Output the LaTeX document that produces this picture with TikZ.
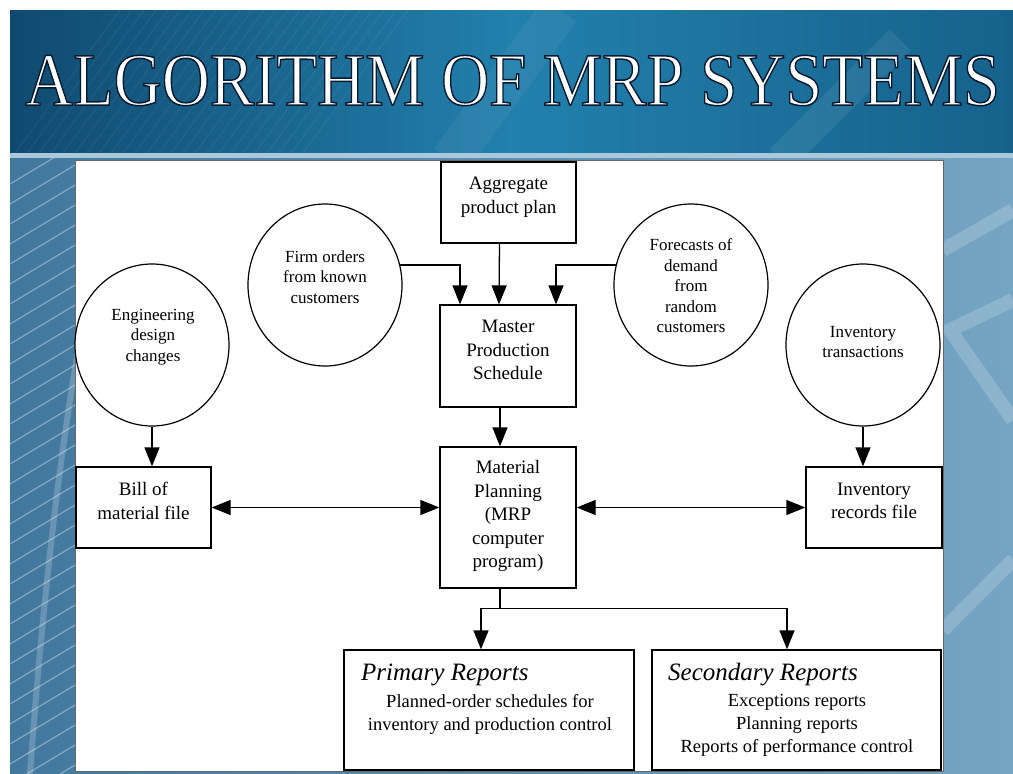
\documentclass[tikz,border=0pt]{standalone}
\usepackage{fontspec}
\setmainfont{Liberation Serif}
\usetikzlibrary{arrows.meta,shapes.geometric}
\definecolor{hdrA}{RGB}{16,74,112}
\definecolor{hdrB}{RGB}{34,128,172}
\definecolor{hdrC}{RGB}{22,98,140}
\definecolor{bgA}{RGB}{66,120,158}
\definecolor{bgB}{RGB}{118,165,195}
\definecolor{sepline}{RGB}{170,200,220}
% white letters stroked with a dark outline (text render mode 2)
\newcommand\outlinedtext[1]{%
  \special{pdf:literal direct 2 Tr 1.5 w 0.02 0.10 0.19 RG}#1\special{pdf:literal direct 0 Tr}}
\begin{document}
\begin{tikzpicture}[x=1pt,y=-1pt,
  box/.style={draw=black,line width=1.3pt,fill=white,inner sep=0pt},
  disc/.style={ellipse,draw=black,line width=1.2pt,fill=white,inner sep=0pt,
    minimum width=154pt,minimum height=162pt},
  boxtxt/.style={align=center,font=\fontsize{19}{23.5}\selectfont,inner sep=0pt},
  disctxt/.style={align=center,font=\fontsize{17}{20.5}\selectfont,inner sep=0pt},
  reptitle/.style={anchor=west,font=\fontsize{25}{28}\selectfont\itshape,inner sep=0pt},
  reptxt/.style={align=center,font=\fontsize{18.5}{22.7}\selectfont,inner sep=0pt},
  tip/.tip={Triangle[width=15pt,length=19pt]},
  flow/.style={line width=1.3pt,-tip},
  both/.style={line width=1.3pt,tip-tip},
  link/.style={line width=1.3pt},
  streak/.style={white,line width=1.2pt,opacity=0.35},
  band/.style={white,line width=14pt,opacity=0.18}
]
\useasboundingbox (0,0) rectangle (1013,774);
\fill[white] (0,0) rectangle (1013,774);

% lower backdrop with light diagonal streaks
\shade[left color=bgA,right color=bgB] (10,155) rectangle (1013,774);
\begin{scope}
  \clip (10,155) rectangle (75,774);
  \foreach \k in {0,...,34} \draw[streak] (0,190+20*\k) -- (100,130+20*\k);
  \draw[white,line width=6pt,opacity=0.2] (30,774) .. controls (50,500) and (80,300) .. (120,160);
\end{scope}
\begin{scope}
  \clip (943,155) rectangle (1013,774);
  \draw[band] (1013,300) -- (950,330) -- (1013,420);
  \draw[band] (1013,560) -- (943,630);
  \draw[band] (1013,210) -- (943,250);
\end{scope}

% title band
\shade[left color=hdrA,right color=hdrC,middle color=hdrB] (10,10) rectangle (1013,155);
\begin{scope}
  \clip (10,10) rectangle (1013,155);
  \foreach \k in {0,...,24} \draw[white,opacity=0.06,line width=1pt] (10+12*\k,160) -- (120+12*\k,10);
  \draw[white,opacity=0.07,line width=30pt] (780,160) -- (900,40);
  \draw[white,opacity=0.05,line width=40pt] (450,160) -- (560,10);
\end{scope}
\fill[sepline] (10,153) rectangle (1013,158);

% title
\node[anchor=base,inner sep=0pt,text=white,font=\fontsize{75}{80}\selectfont] (title)
  at (512.5,105) {\outlinedtext{\scalebox{0.888}[1]{ALGORITHM OF MRP SYSTEMS}}};

% white sheet
\fill[white,draw=black!60,line width=0.8pt] (75,160) rectangle (943,771);

% boxes
\node[box,minimum width=135pt,minimum height=81pt] (agg) at (508.5,202.5) {};
\node[boxtxt] (aggt) at (508.5,197) {Aggregate\\product plan};
\node[box,minimum width=136pt,minimum height=102pt] (mps) at (508,356) {};
\node[boxtxt] (mpst) at (508,350) {Master\\Production\\Schedule};
\node[box,minimum width=136pt,minimum height=141pt] (mrp) at (508,517.5) {};
\node[boxtxt] (mrpt) at (508,516) {Material\\Planning\\(MRP\\computer\\program)};
\node[box,minimum width=135pt,minimum height=81pt] (bom) at (143.5,507.5) {};
\node[boxtxt] (bomt) at (143.5,501) {Bill of\\material file};
\node[box,minimum width=136pt,minimum height=81pt] (inv) at (874,507.5) {};
\node[boxtxt] (invtx) at (874,501) {Inventory\\records file};
\node[box,minimum width=290pt,minimum height=120pt] (prim) at (489,710) {};
\node[reptitle] (primh) at (361,675) {Primary Reports};
\node[reptxt] (primt) at (490,714.5) {Planned-order schedules for\\inventory and production control};
\node[box,minimum width=289pt,minimum height=120pt] (sec) at (796.5,710) {};
\node[reptitle] (sech) at (668,675) {Secondary Reports};
\node[reptxt] (sect) at (797,725.5) {Exceptions reports\\Planning reports\\Reports of performance control};

% circles
\node[disc] (eng) at (152,345) {};
\node[disctxt] (engt) at (153,337) {Engineering\\design\\changes};
\node[disc] (firm) at (325,285) {};
\node[disctxt] (firmt) at (325,277) {Firm orders\\from known\\customers};
\node[disc] (fore) at (691,285) {};
\node[disctxt] (foret) at (691,286) {Forecasts of\\demand\\from\\random\\customers};
\node[disc] (invt) at (863,345) {};
\node[disctxt] (invtt) at (863,342) {Inventory\\transactions};

% connectors
\draw[flow] (firm.15) -| ([xshift=-48pt]mps.north);
\draw[flow] ([xshift=-9pt]agg.south) -- ([xshift=-9pt]mps.north);
\draw[flow] (fore.165) -| ([xshift=48pt]mps.north);
\draw[flow] ([xshift=-8pt]mps.south) -- ([xshift=-8pt]mrp.north);
\draw[flow] (eng.south) -- (eng.south |- bom.north);
\draw[flow] (invt.south) -- (invt.south |- inv.north);
\draw[both] (bom.east) -- (bom.east -| mrp.west);
\draw[both] (inv.west -| mrp.east) -- (inv.west);
\draw[link] ([xshift=-8pt]mrp.south) -- ++(0,20) coordinate (split);
\draw[flow] (split) -| ([xshift=-8pt]prim.north);
\draw[flow] (split) -| ([xshift=-9.5pt]sec.north);
\end{tikzpicture}
\end{document}
